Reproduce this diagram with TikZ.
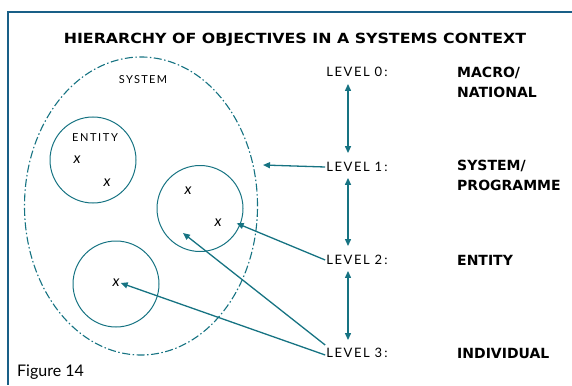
\documentclass[tikz,border=0pt]{standalone}
\usepackage{fontspec}
\setmainfont{Lato}
\newfontfamily\heavyfont{DejaVu Sans}
\usetikzlibrary{arrows.meta,shapes.geometric}
\definecolor{diagteal}{RGB}{22,115,130}
\definecolor{framecol}{RGB}{25,95,135}
\begin{document}
\begin{tikzpicture}[x=1pt,y=-1pt,
    lvl/.style={font=\fontsize{13}{15}\selectfont\addfontfeature{LetterSpace=12}, inner sep=1pt},
    tag/.style={font=\fontsize{14}{20}\selectfont\heavyfont\bfseries, anchor=west, align=left, inner sep=0pt},
    ring/.style={circle, draw=diagteal, line width=1pt, minimum size=86pt, inner sep=0pt},
    xmark/.style={font=\fontsize{15}{15}\selectfont\itshape, inner sep=1pt},
    link/.style={diagteal, line width=1.3pt, -{Triangle[length=7pt,width=6pt]}},
    updown/.style={diagteal, line width=1.3pt, {Triangle[length=7pt,width=6pt]}-{Triangle[length=7pt,width=6pt]}}]
    \useasboundingbox (0,0) rectangle (572,385);
    \draw[framecol, line width=2.5pt] (572,12) -- (8,12) -- (8,385);

    \node[font=\fontsize{14}{16}\selectfont\heavyfont\bfseries] (title) at (295,40) {\scalebox{1.13}[1]{HIERARCHY OF OBJECTIVES IN A SYSTEMS CONTEXT}};

    % system and entities
    \node[ellipse, draw=diagteal, line width=1.1pt, dash pattern=on 8pt off 2.5pt on 1.5pt off 2.5pt,
          minimum width=233pt, minimum height=298pt] (sys) at (141,206) {};
    \node[lvl, font=\fontsize{11}{12}\selectfont\addfontfeature{LetterSpace=12}] (systxt) at (143,80) {SYSTEM};

    \node[ring] (ent1) at (93,160) {};
    \node[ring] (ent2) at (200,208.5) {};
    \node[ring] (ent3) at (116,284) {};
    \node[lvl, font=\fontsize{11}{12}\selectfont\addfontfeature{LetterSpace=15}] (enttxt) at (95,138) {ENTITY};
    \node[xmark] (x1) at (77,160) {x};
    \node[xmark] (x2) at (107,183) {x};
    \node[xmark] (x3) at (188,191) {x};
    \node[xmark] (x4) at (218,223) {x};
    \node[xmark] (x5) at (116,283) {x};

    % levels
    \node[lvl] (lev0) at (357,72) {LEVEL 0\,:};
    \node[lvl] (lev1) at (357,167) {LEVEL 1\,:};
    \node[lvl] (lev2) at (357,260) {LEVEL 2\,:};
    \node[lvl] (lev3) at (357,353) {LEVEL 3\,:};

    \node[tag] (macro) at (457,82) {MACRO/\\NATIONAL};
    \node[tag] (prog) at (457,175) {SYSTEM/\\PROGRAMME};
    \node[tag] (enty) at (457,260) {ENTITY};
    \node[tag] (indiv) at (457,353) {INDIVIDUAL};

    \draw[updown, shorten <=6pt, shorten >=8pt] ([xshift=-9pt]lev0.south) -- ([xshift=-9pt]lev1.north);
    \draw[updown, shorten <=5pt, shorten >=8pt] ([xshift=-9pt]lev1.south) -- ([xshift=-9pt]lev2.north);
    \draw[updown, shorten <=5pt, shorten >=7pt] ([xshift=-9pt]lev2.south) -- ([xshift=-9pt]lev3.north);

    \coordinate (sysedge) at (263,165);
    \coordinate (inner2) at (183,233);
    \draw[link] (lev1.west) -- (sysedge);
    \draw[link, shorten >=-4pt] (lev2.west) -- (ent2.-22);
    \draw[link] ([yshift=8pt]lev3.west) -- (inner2);
    \draw[link] ([yshift=-2pt]lev3.west) -- (x5.east);

    \node[anchor=west, font=\fontsize{16}{17}\selectfont\addfontfeature{Weight=Light}, inner sep=0pt] (cap) at (17,372) {Figure 14};
\end{tikzpicture}
\end{document}
